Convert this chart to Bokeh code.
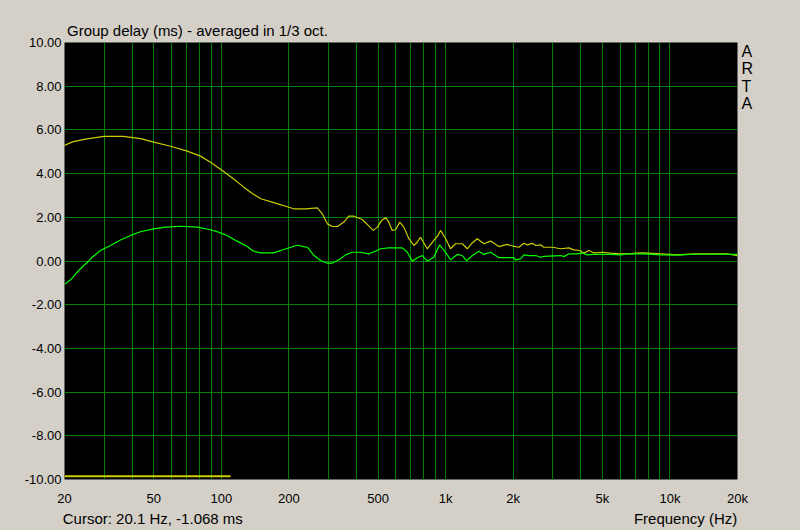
from bokeh.plotting import figure
from bokeh.models import (Range1d, FixedTicker, PrintfTickFormatter, GlobalInlineStyleSheet,
                          InlineStyleSheet, LinearAxis, LogAxis)
from bokeh.embed import file_html
from bokeh.resources import INLINE

# ---- data ----
yellow_freq = [20, 21.7, 24.8, 30, 36.6, 43.6, 50, 59.4, 70.5, 80.8, 89.5, 101, 112, 126, 138, 150,
               174.5, 200, 210.5, 237, 268, 282, 297, 312, 329, 352, 370, 390, 425, 453, 476, 496,
               518, 540, 557, 578, 598, 625, 651, 686, 722, 747, 773, 797, 828, 886, 921, 949, 1000,
               1052, 1107, 1186, 1249, 1305, 1384, 1481, 1586, 1728, 1882, 1947, 2050, 2120, 2232,
               2312, 2434, 2518, 2650, 2742, 3000, 3254, 3544, 3730, 3968, 4134, 4352, 4580, 5000,
               5438, 6024, 6676, 7028, 7652, 9084, 10780, 12780, 15180, 18010, 20000]
yellow_val = [5.29, 5.45, 5.58, 5.70, 5.70, 5.60, 5.44, 5.25, 5.03, 4.80, 4.52, 4.14, 3.80, 3.38, 3.08, 2.85,
              2.65, 2.46, 2.39, 2.39, 2.43, 2.16, 1.70, 1.58, 1.58, 1.78, 2.05, 2.05, 1.90, 1.62, 1.40, 1.55,
              1.85, 1.98, 1.80, 1.40, 1.43, 1.78, 1.55, 1.02, 0.71, 0.86, 1.09, 0.85, 0.56, 0.94, 1.15, 1.40, 1.02,
              0.56, 0.79, 0.79, 0.56, 0.80, 1.02, 0.79, 0.91, 0.66, 0.76, 0.71, 0.66, 0.63, 0.81,
              0.74, 0.81, 0.71, 0.74, 0.63, 0.63, 0.56, 0.60, 0.51, 0.48, 0.36, 0.48, 0.37, 0.40,
              0.36, 0.33, 0.33, 0.36, 0.37, 0.33, 0.28, 0.33, 0.33, 0.33, 0.25]

green_freq = [20, 21.3, 22.6, 24.1, 25.7, 26.1, 28.9, 32.1, 35.5, 39.4, 43.6, 50, 56.4, 65.8, 78.1, 89.5,
              97.2, 106, 117, 130.5, 139, 150, 171.5, 193, 218, 233, 242, 259, 277, 297, 312, 340, 358,
              383, 418, 455, 487, 513, 558, 641, 675, 710, 747, 787, 828, 886, 940, 1000, 1052, 1127,
              1186, 1240, 1318, 1406, 1481, 1586, 1728, 2014, 2050, 2158, 2232, 2350, 2518, 2650, 2742,
              3254, 3366, 3544, 3862, 4064, 4280, 4580, 5438, 6024, 6454, 7652, 9084, 10780, 12780,
              15180, 20000]
green_val = [-1.07, -0.86, -0.55, -0.25, 0.00, 0.10, 0.48, 0.71, 0.96, 1.17, 1.34, 1.47, 1.55, 1.59, 1.55, 1.43,
             1.32, 1.17, 0.92, 0.66, 0.45, 0.37, 0.37, 0.55, 0.72, 0.66, 0.63, 0.25, 0.02, -0.10, -0.10, 0.10, 0.28,
             0.40, 0.40, 0.33, 0.45, 0.56, 0.60, 0.60, 0.40, -0.01, 0.15, 0.25, -0.01, 0.17, 0.74, 0.40, 0.05, 0.30,
             0.25, 0.02, 0.25, 0.45, 0.30, 0.40, 0.15, 0.15, 0.05, 0.10, 0.28, 0.25, 0.25, 0.17, 0.21,
             0.25, 0.20, 0.33, 0.33, 0.37, 0.28, 0.30, 0.30, 0.28, 0.33, 0.33, 0.28, 0.27, 0.31,
             0.31, 0.30]

marker_freq = [20, 110]
marker_val = [-9.85, -9.85]

x_tick_values = [20, 50, 100, 200, 500, 1000, 2000, 5000, 10000, 20000]
x_tick_labels = ["20", "50", "100", "200", "500", "1k", "2k", "5k", "10k", "20k"]
x_grid_values = [30, 40, 50, 60, 70, 80, 90, 100, 200, 300, 400, 500, 600, 700, 800, 900,
                 1000, 2000, 3000, 4000, 5000, 6000, 7000, 8000, 9000, 10000]
y_tick_values = [-10, -8, -6, -4, -2, 0, 2, 4, 6, 8, 10]
y_grid_values = [-8, -6, -4, -2, 0, 2, 4, 6, 8]

title_text = "Group delay (ms) - averaged in 1/3 oct."
# footer texts and where (in Hz) their centres sit under the plot
footer_pos = [49.5, 11740]
footer_texts = ["Cursor: 20.1 Hz, -1.068 ms", "Frequency (Hz)"]
# "ARTA" brand letters stacked at the right side (y position in ms units)
brand_pos = [9.59, 8.81, 7.99, 7.23]
brand_letters = ["A", "R", "T", "A"]

BG = "#D4D0C8"
GRID = "#008000"
YEL = "#CCCC00"
GRN = "#00FF00"
FONT = "Liberation Sans"

p = figure(x_axis_type="log", x_range=Range1d(20, 20000), y_range=Range1d(-10, 10),
           frame_width=673, frame_height=437,
           min_border_left=64, min_border_right=63, min_border_top=42, min_border_bottom=51,
           output_backend="svg", toolbar_location=None)
p.stylesheets = [GlobalInlineStyleSheet(css="body { background-color: %s; }" % BG),
                 InlineStyleSheet(css="svg path, svg line { shape-rendering: crispEdges; }")]
p.background_fill_color = "black"
p.border_fill_color = BG
p.outline_line_color = None

# title
p.title.text = title_text
p.title.align = "left"
p.title.offset = 2.5
p.title.text_font = FONT
p.title.text_font_size = "15px"
p.title.text_font_style = "normal"
p.title.text_color = "black"
p.title.standoff = 7


def plain(ax, size="13px"):
    ax.axis_line_color = None
    ax.major_tick_line_color = None
    ax.minor_tick_line_color = None
    ax.major_tick_out = 0
    ax.major_tick_in = 0
    ax.minor_tick_out = 0
    ax.minor_tick_in = 0
    ax.major_label_text_font = FONT
    ax.major_label_text_font_size = size
    ax.major_label_text_color = "black"


# axes
xa = p.xaxis[0]
xa.ticker = FixedTicker(ticks=x_tick_values)
xa.major_label_overrides = {v: l for v, l in zip(x_tick_values, x_tick_labels)}
ya = p.yaxis[0]
ya.ticker = FixedTicker(ticks=y_tick_values)
ya.formatter = PrintfTickFormatter(format="%.2f")
plain(xa)
plain(ya)
xa.major_label_standoff = 11
ya.major_label_standoff = 3

# footer line (cursor read-out and axis title) as a second, label-only bottom axis
fa = LogAxis(ticker=FixedTicker(ticks=footer_pos),
             major_label_overrides={v: t for v, t in zip(footer_pos, footer_texts)})
plain(fa, "15px")
fa.major_label_standoff = 1
p.add_layout(fa, "below")

# ARTA letters as a label-only right axis
ra = LinearAxis(ticker=FixedTicker(ticks=brand_pos),
                major_label_overrides={v: t for v, t in zip(brand_pos, brand_letters)})
plain(ra, "16px")
ra.major_label_standoff = 4
p.add_layout(ra, "right")

# grid
p.xgrid[0].ticker = FixedTicker(ticks=x_grid_values)
p.ygrid[0].ticker = FixedTicker(ticks=y_grid_values)
for g in (p.xgrid[0], p.ygrid[0]):
    g.grid_line_color = GRID
    g.grid_line_width = 1
    g.grid_line_alpha = 1.0

# curves
p.line(yellow_freq, yellow_val, line_color=YEL, line_width=1.2)
p.line(green_freq, green_val, line_color=GRN, line_width=1.2)
p.line(marker_freq, marker_val, line_color=YEL, line_width=2)

open("out.html", "w").write(file_html(p, INLINE))
